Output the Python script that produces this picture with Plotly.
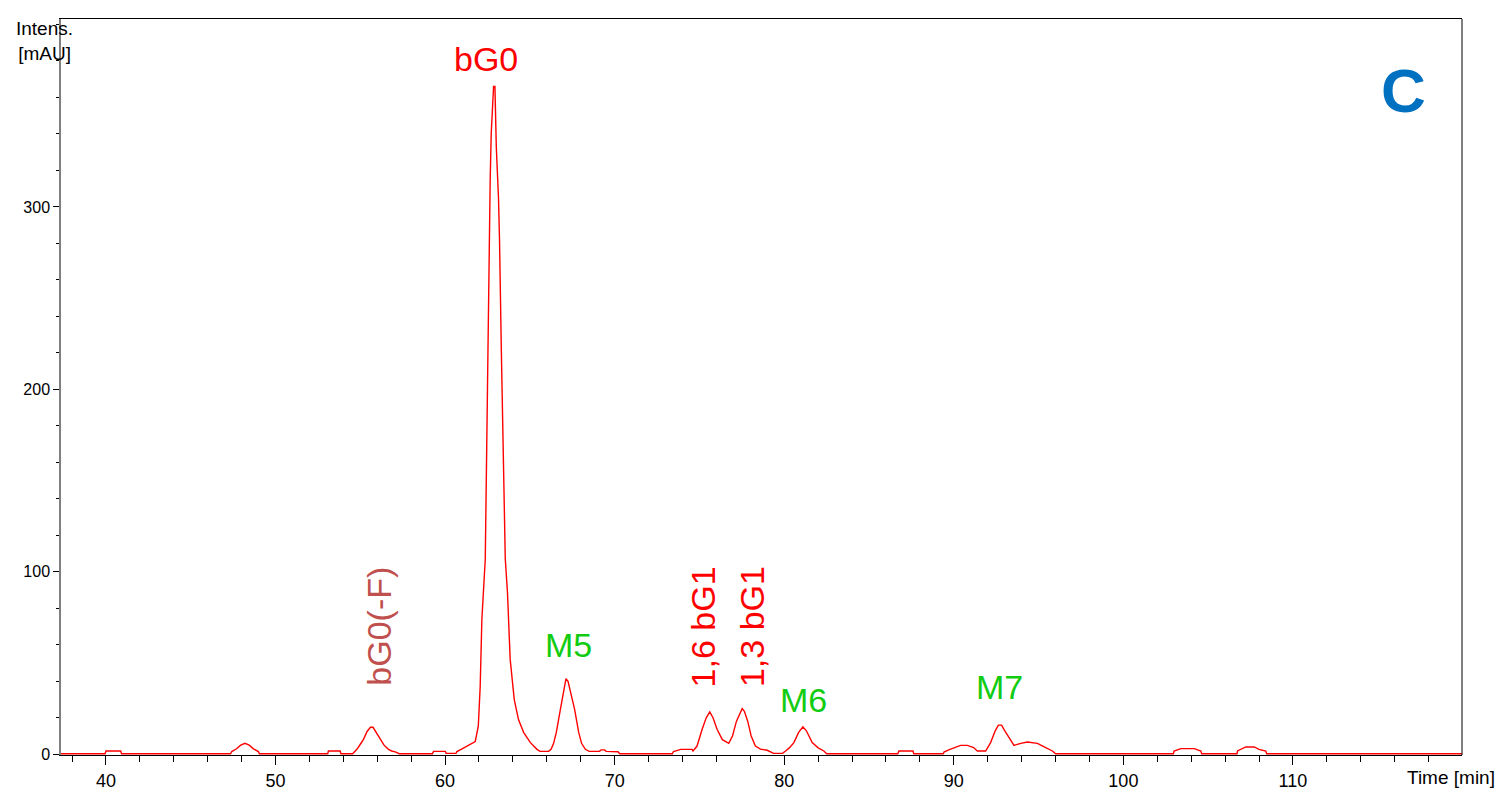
import plotly.graph_objects as go

# Chromatogram trace (time in min, intensity in mAU)
time_min = [
    37.35, 39.95, 40.0, 40.87, 40.92, 47.35, 47.42, 47.7, 47.95, 48.2, 48.45, 48.7, 48.99, 49.05,
    53.08, 53.12, 53.81, 53.86, 54.55, 54.8, 55.0, 55.19, 55.4, 55.6, 55.75, 55.95, 56.17, 56.4,
    56.66, 56.85, 57.06, 57.3, 59.25, 59.32, 60.01, 60.06, 60.65, 60.7, 61.0, 61.37, 61.78, 61.96,
    62.07, 62.17, 62.37, 62.5, 62.6, 62.66, 62.72, 62.82, 62.86, 62.94, 62.98, 63.02, 63.15, 63.21,
    63.32, 63.45, 63.55, 63.68, 63.84, 64.08, 64.33, 64.63, 65.02, 65.42, 65.6, 66.1, 66.25, 66.4,
    66.56, 66.8, 67.0, 67.13, 67.25, 67.45, 67.64, 67.88, 68.05, 68.27, 68.5, 69.1, 69.2, 69.4,
    69.5, 70.2, 70.3, 73.4, 73.47, 73.9, 74.57, 74.62, 74.86, 75.16, 75.4, 75.61, 75.8, 76.04,
    76.35, 76.73, 76.95, 77.18, 77.52, 77.65, 77.85, 78.05, 78.3, 78.6, 79.0, 79.37, 79.9, 80.08,
    80.3, 80.57, 80.85, 81.1, 81.3, 81.65, 82.0, 82.34, 82.5, 86.7, 86.76, 87.59, 87.64, 89.38,
    89.42, 89.7, 90.1, 90.4, 90.8, 91.17, 91.39, 91.88, 92.17, 92.45, 92.63, 92.82, 93.0, 93.2,
    93.55, 93.95, 94.34, 94.93, 95.2, 95.42, 95.82, 96.0, 102.95, 102.99, 103.39, 104.18, 104.57,
    104.62, 106.7, 106.73, 107.22, 107.72, 108.0, 108.4, 108.45, 120.0,
]
intensity_mau = [
    0.3, 0.3, 1.8, 1.8, 0.3, 0.3, 1.5, 3.0, 5.0, 6.0, 5.0, 3.0, 1.5, 0.3,
    0.3, 1.8, 1.8, 0.3, 0.3, 2.7, 5.5, 8.2, 12.5, 14.8, 14.8, 12.0, 8.2, 5.0,
    2.7, 1.8, 1.3, 0.3, 0.3, 1.6, 1.6, 0.5, 0.5, 1.5, 3.0, 5.0, 7.0, 15.5,
    37.0, 74.0, 107.0, 200.0, 282.0, 315.0, 340.0, 358.0, 366.0, 366.0, 352.0, 333.0, 305.0, 282.0,
    220.0, 150.0, 107.0, 88.6, 52.0, 30.0, 19.0, 12.0, 6.5, 2.7, 1.6, 1.6, 2.7, 6.0,
    12.0, 24.6, 36.0, 41.4, 40.0, 32.0, 24.6, 12.0, 6.0, 2.7, 1.6, 1.6, 2.4, 2.4,
    1.6, 1.4, 0.3, 0.3, 1.5, 2.7, 2.7, 1.8, 4.5, 13.7, 20.0, 23.2, 20.0, 13.7,
    8.0, 6.0, 10.0, 18.0, 25.0, 23.5, 18.0, 10.0, 4.5, 2.8, 2.2, 0.5, 0.5, 1.8,
    3.5, 6.4, 12.0, 15.0, 13.0, 6.4, 3.5, 1.8, 0.3, 0.3, 1.8, 1.8, 0.3, 0.3,
    1.2, 2.4, 3.7, 4.9, 4.9, 3.7, 1.8, 1.8, 6.4, 13.0, 16.0, 16.0, 13.0, 10.0,
    4.9, 6.0, 6.7, 6.0, 4.9, 3.7, 1.8, 0.3, 0.3, 1.8, 3.1, 3.1, 1.8,
    0.3, 0.3, 1.8, 4.0, 4.0, 2.7, 1.8, 0.3, 0.3,
]

# Axis ticks
x_tick_vals = [40, 50, 60, 70, 80, 90, 100, 110]
y_tick_vals = [0, 100, 200, 300]

# Peak labels
label_text = ["bG0", "bG0(-F)", "M5", "1,6 bG1", "1,3 bG1", "M6", "M7"]
label_time = [62.4, 56.05, 67.3, 75.2, 78.07, 81.14, 92.7]
label_int = [381, 70, 60, 70, 70, 30, 37]
label_angle = [0, -90, 0, -90, -90, 0, 0]
label_color = ["#ff0000", "#c0504d", "#11cc11", "#ff0000", "#ff0000", "#11cc11", "#11cc11"]

FONT = "Liberation Sans, Arial, sans-serif"

fig = go.Figure()
fig.add_trace(go.Scatter(
    x=time_min, y=intensity_mau, mode="lines",
    line=dict(color="#ff0000", width=1.4), hoverinfo="skip", showlegend=False,
))

for txt, tx, ty, ang, col in zip(label_text, label_time, label_int, label_angle, label_color):
    fig.add_annotation(x=tx, y=ty, xref="x", yref="y", text=txt, showarrow=False,
                       textangle=ang, font=dict(family=FONT, size=34, color=col),
                       xanchor="center", yanchor="middle")

fig.add_annotation(x=0.958, y=0.903, xref="paper", yref="paper", text="<b>C</b>", showarrow=False,
                   font=dict(family=FONT, size=62, color="#0070c0"), xanchor="center", yanchor="middle")

fig.add_annotation(x=-0.0121, y=0.970, xref="paper", yref="paper", text="Intens.<br>[mAU]",
                   showarrow=False, align="center", xanchor="center", yanchor="middle",
                   font=dict(family=FONT, size=19, color="#000"))

fig.add_annotation(x=0.9593, y=-0.0299, xref="paper", yref="paper",
                   text="Time [min]", showarrow=False, xanchor="left", yanchor="middle",
                   font=dict(family=FONT, size=19, color="#000"))

fig.update_layout(
    width=1497, height=790,
    margin=dict(l=61, r=35, t=19, b=35, autoexpand=False),
    paper_bgcolor="white", plot_bgcolor="white",
    font=dict(family=FONT, size=19, color="#000"),
    xaxis=dict(
        range=[37.35, 119.97], tickmode="array", tickvals=x_tick_vals, ticks="outside",
        ticklen=9, tickwidth=1, tickcolor="#000", showline=True, linecolor="#000",
        linewidth=1, mirror=True, showgrid=False, zeroline=False, automargin=False,
        tickfont=dict(size=18),
        minor=dict(dtick=2, tick0=0, ticks="outside", ticklen=6, tickcolor="#000", showgrid=False),
    ),
    yaxis=dict(
        range=[-0.4, 403], tickmode="array", tickvals=y_tick_vals, ticks="outside",
        ticklen=6, tickwidth=1, tickcolor="#000", showline=True, linecolor="#808080",
        linewidth=1.5, showgrid=False, zeroline=False, automargin=False,
        tickfont=dict(size=16),
        minor=dict(dtick=20, tick0=0, ticks="outside", ticklen=3, tickcolor="#000", showgrid=False),
    ),
    shapes=[dict(type="line", xref="paper", yref="paper", x0=1, x1=1, y0=0, y1=1,
                 line=dict(color="#000", width=1))],
)

fig.write_html("out.html", config={"displayModeBar": False})

# remove the default page margin so the figure sits at the window's top-left corner
with open("out.html", "r", encoding="utf-8") as f:
    html = f.read()
html = html.replace("<head>", "<head><style>html,body{margin:0;padding:0;overflow:hidden;}</style>", 1)
with open("out.html", "w", encoding="utf-8") as f:
    f.write(html)
